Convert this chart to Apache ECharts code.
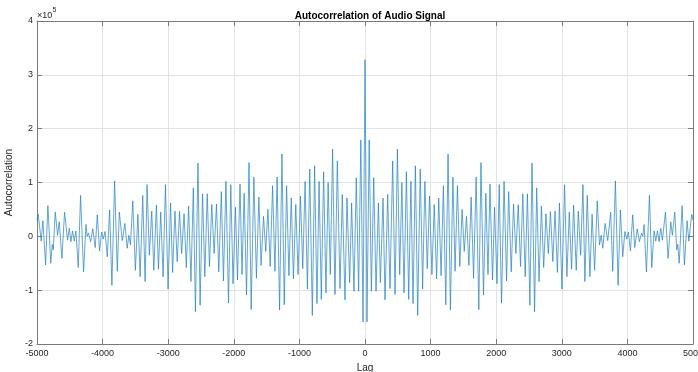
<!DOCTYPE html>
<html>
<head>
<meta charset="utf-8">
<script src="https://cdn.jsdelivr.net/npm/echarts@6/dist/echarts.min.js"></script>
<style>
html,body{margin:0;padding:0;background:#fff;}
#chart{width:698px;height:372px;}
</style>
</head>
<body>
<div id="chart"></div>
<script>
// Values are in units of 1e5 (axis shows "x10^5")
const centerLag = 0;
const centerValue = 3.28;

// Positive-lag extrema (outward from 0)
const rightLags = [30,64,97,133,168,204,234,275,305,346,
381,422,458,494,529,562,595,631,666,700,
732,768,803,842,878,913,949,984,1020,1055,
1091,1124,1160,1195,1231,1266,1302,1340,1373,1409,
1445,1480,1513,1547,1584,1618,1655,1694,1735,1768,
1806,1842,1875,1905,1944,1975,2012,2046,2081,2120,
2158,2190,2229,2264,2300,2336,2371,2405,2442,2476,
2514,2546,2585,2617,2653,2689,2724,2758,2795,2827,
2863,2897,2933,2964,3002,3042,3078,3114,3149,3180,
3220,3251,3287,3322,3352,3388,3428,3462,3500,3540,
3575,3600,3625,3660,3700,3745,3776,3817,3858,3893,
3929,3962,3990,4015,4046,4081,4112,4150,4183,4215,
4235,4254,4290,4336,4371,4407,4432,4458,4483,4508,
4534,4580,4620,4661,4686,4722,4752,4768,4790,4834,
4869,4910,4936,4981,5000];
const rightValues = [-1.59,1.79,-1.02,1.09,-1.02,0.62,-0.86,0.71,-1.18,0.78,
-0.97,1.40,-1.08,1.62,-0.71,1.00,-1.05,1.20,-1.17,1.02,
-1.25,1.31,-1.47,1.25,-0.98,1.02,-0.60,0.75,-0.71,0.59,
-0.79,0.71,-0.73,0.94,-1.27,1.53,-1.37,1.10,-0.65,0.94,
-0.56,0.50,-0.28,0.37,-0.54,0.73,-0.78,1.10,-1.36,1.37,
-1.09,0.80,-0.71,0.97,-0.81,0.54,-0.88,0.96,-1.24,1.02,
-0.83,0.83,-0.66,0.60,-0.32,0.59,-0.56,0.79,-0.75,0.79,
-1.28,1.36,-1.40,0.90,-0.84,0.56,-0.58,0.42,-0.32,0.46,
-0.47,0.47,-0.67,0.62,-0.98,0.96,-0.75,0.45,-0.61,0.58,
-0.63,0.47,-0.35,0.96,-0.84,0.76,-0.75,0.41,-0.63,0.66,
-0.16,0.02,-0.22,0.24,-0.08,0.45,-0.65,1.03,-0.91,0.49,
-0.38,0.09,-0.05,0.08,-0.27,0.40,-0.21,0.14,-0.10,0.06,
0.00,0.22,-0.66,0.76,-0.58,0.10,-0.09,0.10,-0.10,0.15,
-0.07,0.45,-0.41,0.27,0.02,0.45,-0.25,-0.15,-0.50,0.57,
-0.53,0.29,-0.09,0.41,0.30];

// Negative-lag extrema (outward from 0)
const leftLags = [-30,-64,-97,-133,-168,-204,-234,-275,-305,-346,
-381,-422,-458,-494,-529,-562,-595,-631,-666,-700,
-732,-768,-803,-842,-878,-913,-949,-984,-1020,-1055,
-1091,-1124,-1160,-1195,-1231,-1266,-1302,-1340,-1373,-1409,
-1445,-1480,-1513,-1547,-1584,-1618,-1655,-1694,-1735,-1768,
-1806,-1842,-1875,-1905,-1944,-1975,-2012,-2046,-2081,-2120,
-2158,-2190,-2229,-2264,-2300,-2336,-2371,-2405,-2442,-2476,
-2514,-2546,-2585,-2617,-2653,-2689,-2724,-2758,-2795,-2827,
-2863,-2897,-2933,-2964,-3002,-3042,-3078,-3114,-3149,-3180,
-3220,-3251,-3287,-3322,-3352,-3388,-3428,-3462,-3500,-3540,
-3575,-3600,-3625,-3660,-3700,-3745,-3776,-3817,-3858,-3893,
-3929,-3962,-3990,-4015,-4046,-4081,-4112,-4150,-4183,-4215,
-4235,-4254,-4290,-4336,-4371,-4407,-4432,-4458,-4483,-4508,
-4534,-4580,-4620,-4661,-4686,-4722,-4752,-4768,-4790,-4834,
-4869,-4910,-4936,-4981,-5000];
const leftValues = [-1.59,1.79,-1.02,1.09,-1.02,0.62,-0.86,0.71,-1.18,0.78,
-0.97,1.40,-1.08,1.62,-0.71,1.00,-1.05,1.20,-1.17,1.02,
-1.25,1.31,-1.47,1.25,-0.98,1.02,-0.60,0.75,-0.71,0.59,
-0.79,0.71,-0.73,0.94,-1.27,1.53,-1.37,1.10,-0.65,0.94,
-0.56,0.50,-0.28,0.37,-0.54,0.73,-0.78,1.10,-1.36,1.37,
-1.09,0.80,-0.71,0.97,-0.81,0.54,-0.88,0.96,-1.24,1.02,
-0.83,0.83,-0.66,0.60,-0.32,0.59,-0.56,0.79,-0.75,0.79,
-1.28,1.36,-1.40,0.90,-0.84,0.56,-0.58,0.42,-0.32,0.46,
-0.47,0.47,-0.67,0.62,-0.98,0.96,-0.75,0.45,-0.61,0.58,
-0.63,0.47,-0.35,0.96,-0.84,0.76,-0.75,0.41,-0.63,0.66,
-0.16,0.02,-0.22,0.24,-0.08,0.45,-0.65,1.03,-0.91,0.49,
-0.38,0.09,-0.05,0.08,-0.27,0.40,-0.21,0.14,-0.10,0.06,
0.00,0.22,-0.66,0.76,-0.58,0.10,-0.09,0.10,-0.10,0.15,
-0.07,0.45,-0.41,0.27,0.02,0.45,-0.25,-0.15,-0.50,0.57,
-0.53,0.29,-0.09,0.41,0.30];

const xTicks = [-5000,-4000,-3000,-2000,-1000,0,1000,2000,3000,4000,5000];
const yTicks = [-2,-1,0,1,2,3,4];

const titleText = 'Autocorrelation of Audio Signal';
const xName = 'Lag';
const yName = 'Autocorrelation';

// build the series from the arrays
const pts = [];
for (let i = 0; i < leftLags.length; i++) pts.push([leftLags[i], leftValues[i]]);
pts.push([centerLag, centerValue]);
for (let i = 0; i < rightLags.length; i++) pts.push([rightLags[i], rightValues[i]]);
pts.sort((a, b) => a[0] - b[0]);

const FONT = 'Liberation Sans, Arial, Helvetica, sans-serif';
const axisGray = '#7a7a7a';
const gridGray = '#e3e3e3';
const textCol = '#262626';

const chart = echarts.init(document.getElementById('chart'), null, {renderer: 'canvas'});
chart.setOption({
  animation: false,
  backgroundColor: '#ffffff',
  title: {
    text: titleText,
    left: 365, top: 6, textAlign: 'center',
    textStyle: {fontFamily: FONT, fontSize: 10, fontWeight: 'bold', color: '#000'}
  },
  grid: {left: 37, right: 5, top: 21, bottom: 28, containLabel: false, outerBoundsMode: 'none'},
  xAxis: [{
    type: 'value', min: xTicks[0], max: xTicks[xTicks.length - 1], interval: 1000,
    position: 'bottom',
    name: xName, nameLocation: 'middle', nameGap: 17,
    nameTextStyle: {fontFamily: FONT, fontSize: 10, color: textCol},
    axisLine: {show: true, onZero: false, lineStyle: {color: axisGray, width: 1}},
    axisTick: {show: true, inside: true, length: 5, lineStyle: {color: axisGray}},
    axisLabel: {show: true, margin: 5, fontFamily: FONT, fontSize: 9, color: textCol,
      showMinLabel: true, showMaxLabel: true, hideOverlap: false,
      formatter: v => String(v)},
    splitLine: {show: true, lineStyle: {color: gridGray, width: 1}}
  }, {
    type: 'value', min: xTicks[0], max: xTicks[xTicks.length - 1], interval: 1000,
    position: 'top',
    axisLine: {show: true, onZero: false, lineStyle: {color: axisGray, width: 1}},
    axisTick: {show: true, inside: true, length: 5, lineStyle: {color: axisGray}},
    axisLabel: {show: false},
    splitLine: {show: false}
  }],
  yAxis: [{
    type: 'value', min: yTicks[0], max: yTicks[yTicks.length - 1], interval: 1,
    position: 'left',
    name: yName, nameLocation: 'middle', nameGap: 20,
    nameTextStyle: {fontFamily: FONT, fontSize: 10, color: textCol},
    axisLine: {show: true, onZero: false, lineStyle: {color: axisGray, width: 1}},
    axisTick: {show: true, inside: true, length: 5, lineStyle: {color: axisGray}},
    axisLabel: {show: true, margin: 4, fontFamily: FONT, fontSize: 9, color: textCol,
      formatter: v => String(v)},
    splitLine: {show: true, lineStyle: {color: gridGray, width: 1}}
  }, {
    type: 'value', min: yTicks[0], max: yTicks[yTicks.length - 1], interval: 1,
    position: 'right',
    axisLine: {show: true, onZero: false, lineStyle: {color: axisGray, width: 1}},
    axisTick: {show: true, inside: true, length: 5, lineStyle: {color: axisGray}},
    axisLabel: {show: false},
    splitLine: {show: false}
  }],
  graphic: [
    {type: 'text', left: 37, top: 11, style: {text: '×10', fontFamily: FONT, fontSize: 9, fill: textCol}},
    {type: 'text', left: 52.5, top: 7, style: {text: '5', fontFamily: FONT, fontSize: 7, fill: textCol}}
  ],
  series: [{
    type: 'line',
    xAxisIndex: 0, yAxisIndex: 0,
    data: pts,
    showSymbol: false,
    symbol: 'none',
    clip: true,
    lineStyle: {color: '#1f7fc2', width: 0.7},
    z: 3
  }]
});
</script>
</body>
</html>
